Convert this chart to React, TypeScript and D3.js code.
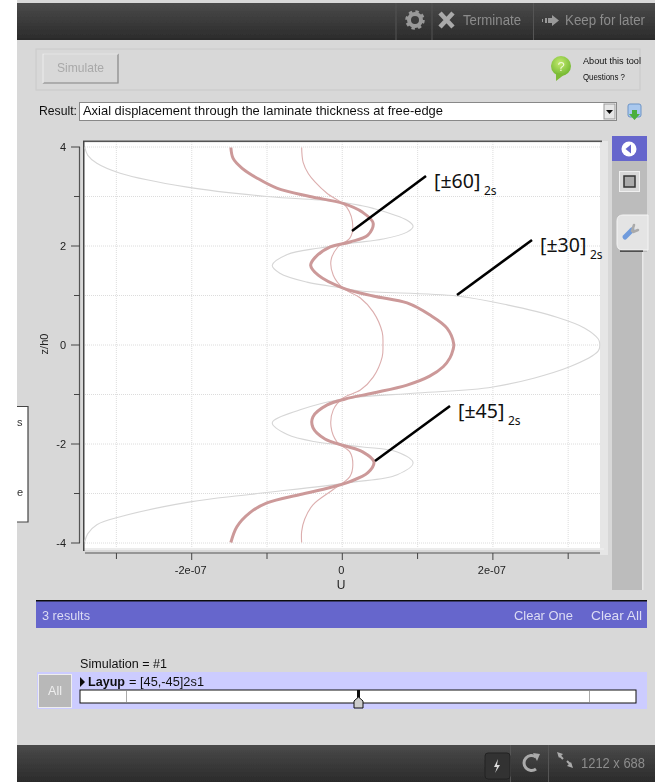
import React from "react";
import * as d3 from "d3";

// U values are in units of 1e-7
const gray30U = [-3.42,-3.38,-3.26,-2.95,-2.06,-1.0,-0.07,0.24,0.41,0.86,0.94,0.86,0.54,0.14,-0.3,-0.73,-0.93,-0.83,-0.47,0.01,0.24,1.52,2.19,2.85,3.22,3.4,3.42,3.4,3.02,2.0,1.0,0.01,-0.56,-0.93,-0.73,-0.34,0.27,0.73,0.94,0.73,0.1,-1.23,-2.02,-2.95,-3.26,-3.38,-3.42];
const gray30Z = [3.99,3.83,3.67,3.47,3.19,3.0,2.9,2.82,2.76,2.52,2.4,2.28,2.14,2.06,1.96,1.83,1.61,1.45,1.27,1.15,1.09,0.99,0.81,0.56,0.34,0.12,0.02,-0.12,-0.44,-0.85,-0.97,-1.09,-1.31,-1.57,-1.81,-1.96,-2.06,-2.16,-2.38,-2.62,-2.78,-3.02,-3.17,-3.47,-3.63,-3.81,-3.97];
const thick45U = [-1.48,-1.45,-1.33,-1.13,-0.87,-0.43,0.01,0.27,0.41,0.34,0.1,-0.16,-0.36,-0.42,-0.32,0.01,0.41,0.86,1.16,1.39,1.48,1.47,1.43,1.34,1.16,0.86,0.41,0.04,-0.2,-0.39,-0.39,-0.23,0.04,0.27,0.42,0.34,0.1,-0.16,-0.56,-1.0,-1.23,-1.4,-1.48];
const thick45Z = [3.99,3.77,3.57,3.37,3.17,3.0,2.86,2.68,2.46,2.22,2.08,1.98,1.77,1.61,1.41,1.15,0.99,0.85,0.61,0.34,0.02,-0.1,-0.26,-0.44,-0.63,-0.81,-0.97,-1.09,-1.21,-1.45,-1.67,-1.9,-2.04,-2.16,-2.36,-2.58,-2.76,-2.88,-3.02,-3.19,-3.39,-3.67,-3.99];
const thin60U = [-0.54,-0.52,-0.45,-0.36,-0.2,0.06,0.14,0.1,-0.06,-0.15,-0.12,0.01,0.24,0.41,0.53,0.54,0.53,0.41,0.24,0.01,-0.12,-0.15,-0.07,0.1,0.14,0.1,-0.12,-0.39,-0.5,-0.54,-0.54];
const thin60Z = [3.99,3.69,3.46,3.29,3.06,2.78,2.38,2.16,1.98,1.71,1.41,1.15,0.95,0.67,0.26,0.0,-0.24,-0.65,-0.91,-1.07,-1.31,-1.65,-1.96,-2.16,-2.42,-2.66,-2.92,-3.23,-3.52,-3.77,-3.99];

const xMajorTicks = [-2, 0, 2];
const xMinorTicks = [-3, -1, 1, 3];
const xTickLabels = ["-2e-07", "0", "2e-07"];
const yMajorTicks = [4, 2, 0, -2, -4];
const yMinorTicks = [3, 1, -1, -3];
const annotations = [
  { label: "[±60]", sub: "2s" },
  { label: "[±30]", sub: "2s" },
  { label: "[±45]", sub: "2s" },
];

const x = d3.scaleLinear().domain([-3.42, 3.42]).range([84.8, 599.8]);
const y = d3.scaleLinear().domain([4, -4]).range([147, 543]);
const toPath = (us: number[], zs: number[]) =>
  d3.line<number>().x((u) => x(u)).y((_, i) => y(zs[i])).curve(d3.curveCatmullRom.alpha(0.5))(us)!;

const sans = "'Liberation Sans', Arial, sans-serif";

export default function App() {
  const allX = [...xMajorTicks, ...xMinorTicks];
  const allY = [...yMajorTicks, ...yMinorTicks];
  return (
    <svg width={655} height={782} style={{ position: "absolute", left: 0, top: 0 }} fontFamily={sans}>
      <defs>
        <linearGradient id="bar" x1="0" y1="0" x2="0" y2="1">
          <stop offset="0" stopColor="#4a4a4a" />
          <stop offset="1" stopColor="#2b2b2b" />
        </linearGradient>
        <radialGradient id="green" cx="0.45" cy="0.35" r="0.7">
          <stop offset="0" stopColor="#c4ea70" />
          <stop offset="1" stopColor="#6bb32a" />
        </radialGradient>
        <filter id="soft" x="0" y="0" width="1" height="1">
          <feGaussianBlur stdDeviation="0.3" />
        </filter>
      </defs>
      <rect width={655} height={782} fill="#ffffff" />
      <g filter="url(#soft)">
        <rect x={17} y={0} width={638} height={782} fill="#d8d8d8" />
        {/* top bar */}
        <rect x={17} y={3} width={638} height={37} fill="url(#bar)" />
        <rect x={395.5} y={3} width={1} height={37} fill="#555" />
        <rect x={431.5} y={3} width={1} height={37} fill="#555" />
        <rect x={533} y={3} width={1} height={37} fill="#555" />
        <circle cx={415} cy={20} r={6} fill="none" stroke="#999" strokeWidth={4} />
        <circle cx={415} cy={20} r={8.5} fill="none" stroke="#999" strokeWidth={2.5} strokeDasharray="3.4 3.3" />
        <path d="M440 13 L453 27 M453 13 L440 27" stroke="#aaa" strokeWidth={4.5} />
        <text x={463} y={25} fontSize={14} fill="#8c8c8c" textLength={58} lengthAdjust="spacingAndGlyphs">Terminate</text>
        <path d="M542 19h1v3h-1z M545 18h2v5h-2z M548 18h4v-3l7 5.5-7 5.5v-3h-4z" fill="#999" />
        <text x={565} y={25} fontSize={14} fill="#8c8c8c" textLength={80} lengthAdjust="spacingAndGlyphs">Keep for later</text>

        {/* simulate panel */}
        <rect x={36} y={49} width={604} height={41} fill="none" stroke="#cccccc" strokeWidth={1.2} />
        <rect x={43} y={54} width={75} height={29} fill="#d8d8d8" stroke="#bbb" />
        <path d="M43 83 H118 V54" fill="none" stroke="#8f8f8f" strokeWidth={1.2} />
        <path d="M43 83 V54 H118" fill="none" stroke="#f2f2f2" strokeWidth={1.2} />
        <text x={57} y={72} fontSize={13} fill="#a9a9a9" textLength={47} lengthAdjust="spacingAndGlyphs">Simulate</text>
        <circle cx={561} cy={66} r={10} fill="url(#green)" />
        <path d="M556 73 L556 81 L565 74 Z" fill="#7dbb34" />
        <text x={561} y={71} fontSize={13} fill="#f0f8d8" textAnchor="middle">?</text>
        <text x={583} y={64} fontSize={9.5} fill="#111" textLength={58} lengthAdjust="spacingAndGlyphs">About this tool</text>
        <text x={583} y={80} fontSize={9.5} fill="#111" textLength={42} lengthAdjust="spacingAndGlyphs">Questions ?</text>

        {/* result row */}
        <text x={39} y={115} fontSize={13} fill="#111" textLength={38} lengthAdjust="spacingAndGlyphs">Result:</text>
        <rect x={79.5} y={102.5} width={537} height={18} fill="#fff" stroke="#888" />
        <text x={83} y={115} fontSize={13} fill="#111" textLength={360} lengthAdjust="spacingAndGlyphs">Axial displacement through the laminate thickness at free-edge</text>
        <rect x={604} y={104} width={11} height={15} fill="#e6e6e6" stroke="#999" />
        <path d="M606 110h7l-3.5 4z" fill="#111" />
        <rect x={628} y={104} width={13} height={13} rx={2} fill="#a9c8ee" stroke="#6d94c6" />
        <path d="M632 110h5v4h3l-5.5 6-5.5-6h3z" fill="#4caf3a" />

        {/* left clipped panel */}
        <rect x={17} y={406} width={11} height={116} fill="#fff" />
        <path d="M17 406.5H28V522H17" fill="none" stroke="#444" strokeWidth={1.2} />
        <text x={17} y={426} fontSize={11} fill="#333">s</text>
        <text x={17} y={496} fontSize={11} fill="#333">e</text>

        {/* plot area */}
        <rect x={84} y={142} width={516} height={406} fill="#fff" />
        <rect x={600} y={141} width={8} height={414} fill="#e6e6e6" />
        <rect x={84} y={548} width={520} height={2} fill="#ececec" />
        <rect x={83} y={140.5} width={519} height={1.6} fill="#555" />
        <rect x={83} y={141} width={1.5} height={410} fill="#444" />
        {allX.map((t) => (
          <line key={t} x1={x(t)} x2={x(t)} y1={142} y2={548} stroke="#e2e2e2" strokeDasharray="1 1" strokeWidth={1.2} />
        ))}
        {allY.map((t) => (
          <line key={t} x1={85} x2={600} y1={y(t)} y2={y(t)} stroke="#dcdcdc" strokeDasharray="1 1" />
        ))}
        <path d={toPath(gray30U, gray30Z)} fill="none" stroke="#d6d6d6" strokeWidth={1.1} />
        <path d={toPath(thin60U, thin60Z)} fill="none" stroke="#dcaeae" strokeWidth={1.1} />
        <path d={toPath(thick45U, thick45Z)} fill="none" stroke="#cc9999" strokeWidth={3} />

        {/* y axis */}
        <line x1={79.5} x2={79.5} y1={y(4)} y2={y(-4)} stroke="#555" strokeWidth={1.2} />
        {yMajorTicks.map((t) => (
          <g key={t}>
            <line x1={71} x2={80} y1={y(t)} y2={y(t)} stroke="#444" />
            <text x={66} y={y(t) + 4} fontSize={11} fill="#222" textAnchor="end">{t}</text>
          </g>
        ))}
        {yMinorTicks.map((t) => (
          <line key={t} x1={74} x2={80} y1={y(t)} y2={y(t)} stroke="#444" />
        ))}
        <text transform="translate(48,344) rotate(-90)" fontSize={11} fill="#222" textAnchor="middle">z/h0</text>

        {/* x axis */}
        <line x1={85} x2={600} y1={553} y2={553} stroke="#555" strokeWidth={1.2} />
        {xMajorTicks.map((t, i) => (
          <g key={t}>
            <line x1={x(t)} x2={x(t)} y1={553} y2={560} stroke="#444" />
            <text x={x(t) - 1} y={574} fontSize={11} fill="#222" textAnchor="middle">{xTickLabels[i]}</text>
          </g>
        ))}
        {xMinorTicks.map((t) => (
          <line key={t} x1={x(t)} x2={x(t)} y1={553} y2={559} stroke="#444" />
        ))}
        <text x={341} y={589} fontSize={12} fill="#222" textAnchor="middle">U</text>

        {/* side panel */}
        <rect x={612} y={136} width={35} height={454} fill="#bcbcbc" />
        <rect x={642} y={252} width={13} height={340} fill="#d8d8d8" />
        <rect x={642} y={252} width={1.5} height={338} fill="#e8e8e8" />
        <rect x={612} y={136} width={35} height={25} fill="#6666cc" />
        <circle cx={629} cy={149} r={7.5} fill="#fff" />
        <path d="M631 144.5 L625.5 149 L631 153.5 Z" fill="#6666cc" />
        <rect x={619.5} y={171.5} width={20} height={20} fill="#d8d8d8" stroke="#efefef" />
        <rect x={624} y={176} width={11} height={11} fill="#aaa" stroke="#333" strokeWidth={1.5} />
        <path d="M648 215 H623 Q617 215 617 221 V244 Q617 250 623 250 H648 Z" fill="#e4e4e4" stroke="#f5f5f5" />
        <path d="M625 237 L632 230" stroke="#6f9bdc" strokeWidth={5} strokeLinecap="round" />
        <path d="M632 231 L634 225 M633 232 L638 230" stroke="#aaa" strokeWidth={2.5} strokeLinecap="round" />
        <rect x={620} y={250.5} width={23} height={1.2} fill="#222" />

        {/* results bar */}
        <rect x={36} y={600} width={611} height={28} fill="#6666cc" />
        <rect x={36} y={600} width={611} height={1.5} fill="#111" />
        <text x={42} y={620} fontSize={13} fill="#dcdcf4" textLength={48} lengthAdjust="spacingAndGlyphs">3 results</text>
        <text x={514} y={620} fontSize={13} fill="#dcdcf4" textLength={59} lengthAdjust="spacingAndGlyphs">Clear One</text>
        <text x={591} y={620} fontSize={13} fill="#dcdcf4" textLength={51} lengthAdjust="spacingAndGlyphs">Clear All</text>

        {/* slider */}
        <text x={80} y={668} fontSize={12.5} fill="#111" textLength={87} lengthAdjust="spacingAndGlyphs">Simulation = #1</text>
        <rect x={37} y={672} width={610} height={37} fill="#ccccff" />
        <rect x={38.5} y={674.5} width={33} height={33} fill="#b8b8b8" stroke="#eee" />
        <text x={55} y={695} fontSize={12.5} fill="#eee" textAnchor="middle">All</text>
        <path d="M80 677 L85 682 L80 687 Z" fill="#111" />
        <text x={88} y={686} fontSize={13} fill="#111" fontWeight="bold" textLength={37} lengthAdjust="spacingAndGlyphs">Layup</text>
        <text x={129} y={686} fontSize={12.5} fill="#111" textLength={75} lengthAdjust="spacingAndGlyphs">= [45,-45]2s1</text>
        <rect x={80} y={690} width={556} height={13} fill="#fff" stroke="#111" />
        <line x1={126.5} x2={126.5} y1={691} y2={702} stroke="#aaa" />
        <line x1={589.5} x2={589.5} y1={691} y2={702} stroke="#aaa" />
        <rect x={357} y={690} width={3} height={9} fill="#111" />
        <path d="M358.5 697 L363 701 V708 H354 V701 Z" fill="#ccc" stroke="#111" />

        {/* bottom bar */}
        <rect x={17} y={745} width={638} height={37} fill="url(#bar)" />
        <rect x={510} y={745} width={1} height={37} fill="#555" />
        <rect x={548} y={745} width={1} height={37} fill="#555" />
        <rect x={485} y={753} width={25} height={26} rx={3} fill="#333" stroke="#222" />
        <path d="M498 759 L494 767 H497 L495 773 L500 765 H497 Z" fill="#ddd" />
        <path d="M536 757 A7.5 7.5 0 1 0 536 769" fill="none" stroke="#aaa" strokeWidth={3} />
        <path d="M533 753 L540 754 L537 761 Z" fill="#aaa" />
        <path d="M557 752 L563 754 L559 758 Z M573 768 L567 766 L571 762 Z" fill="#aaa" />
        <path d="M559 755 L563 759 M571 765 L567 761" stroke="#aaa" strokeWidth={2} />
        <text x={581} y={768} fontSize={14} fill="#8c8c8c" textLength={64} lengthAdjust="spacingAndGlyphs">1212 x 688</text>
      </g>

      {/* annotations */}
      <g stroke="#000" strokeWidth={2.6}>
        <line x1={352} y1={231} x2={426} y2={176} />
        <line x1={457} y1={295} x2={532} y2={240} />
        <line x1={375} y1={461} x2={450} y2={406} />
      </g>
      <g fontFamily="'Noto Sans', sans-serif" fill="#111">
        <text x={434} y={188} fontSize={19.5}>{annotations[0].label}</text>
        <text x={484} y={195} fontSize={12}>{annotations[0].sub}</text>
        <text x={540} y={252} fontSize={19.5}>{annotations[1].label}</text>
        <text x={590} y={259} fontSize={12}>{annotations[1].sub}</text>
        <text x={458} y={418} fontSize={19.5}>{annotations[2].label}</text>
        <text x={508} y={425} fontSize={12}>{annotations[2].sub}</text>
      </g>
    </svg>
  );
}
